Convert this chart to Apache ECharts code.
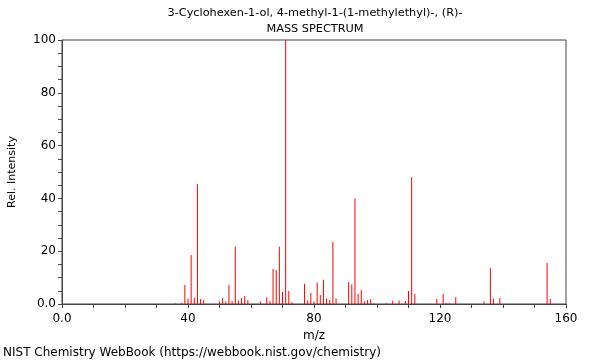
<!DOCTYPE html>
<html>
<head>
<meta charset="utf-8">
<script src="https://cdn.jsdelivr.net/npm/echarts@6/dist/echarts.min.js"></script>
<style>html,body{margin:0;padding:0;background:#fff}#c{width:600px;height:360px}</style>
</head>
<body>
<div id="c"></div>
<script>
const titleLines = ["3-Cyclohexen-1-ol, 4-methyl-1-(1-methylethyl)-, (R)-", "MASS SPECTRUM"];
const footer = "NIST Chemistry WebBook (https://webbook.nist.gov/chemistry)";
const xLabel = "m/z";
const yLabel = "Rel. Intensity";
const mz = [36,38,39,40,41,42,43,44,45,50,51,52,53,54,55,56,57,58,59,63,65,66,67,68,69,70,71,72,73,77,78,79,80,81,82,83,84,85,86,87,91,92,93,94,95,96,97,98,99,103,105,107,109,110,111,112,119,121,122,123,125,134,136,137,139,154,155];
const intensity = [0.3,0.5,7.2,2.0,18.6,2.4,45.5,1.9,1.5,0.9,2.3,0.9,7.2,1.0,21.7,1.3,2.3,3.0,1.4,0.9,2.6,1.0,13.3,12.9,21.7,4.5,100,4.9,0.7,7.7,1.3,4.2,0.9,8.1,3.4,9.2,2.1,1.5,23.5,2.1,8.3,7.4,40,3.8,5.3,1.0,1.5,1.8,0.3,0.3,1.2,1.3,1.1,4.9,48,3.8,1.9,3.8,0.4,0.3,2.6,0.9,13.5,2.0,2.3,15.5,1.9];

const chart = echarts.init(document.getElementById('c'), null, {renderer: 'canvas'});
const font = 'DejaVu Sans';
const axisCol = '#444';
chart.setOption({
  animation: false,
  textStyle: {fontFamily: font},
  title: [
    {text: titleLines[0], left: 315, top: 8, padding: 0, textAlign: 'center', textStyle: {fontSize: 11.3, fontWeight: 'normal', color: '#000', fontFamily: font}},
    {text: titleLines[1], left: 315, top: 24, padding: 0, textAlign: 'center', textStyle: {fontSize: 11.3, fontWeight: 'normal', color: '#000', fontFamily: font}},
    {text: footer, left: 3, top: 347, padding: 0, textStyle: {fontSize: 12, fontWeight: 'normal', color: '#000', fontFamily: font}}
  ],
  grid: {left: 62, right: 34, top: 40, bottom: 56, containLabel: false, outerBoundsMode: 'none', show: true, borderColor: axisCol, borderWidth: 1, backgroundColor: 'transparent'},
  xAxis: {
    type: 'value', min: 0, max: 160, interval: 40,
    name: xLabel, nameLocation: 'middle', nameGap: 23,
    nameTextStyle: {fontSize: 12, color: '#000', fontFamily: font},
    axisLine: {show: true, lineStyle: {color: axisCol}},
    axisTick: {show: true, length: 4, lineStyle: {color: axisCol}},
    minorTick: {show: true, splitNumber: 4, length: 4, lineStyle: {color: axisCol}},
    axisLabel: {fontSize: 12, color: '#000', margin: 9, fontFamily: font, formatter: v => v === 0 ? '0.0' : String(v)},
    splitLine: {show: false}
  },
  yAxis: {
    type: 'value', min: 0, max: 100, interval: 20,
    name: yLabel, nameLocation: 'middle', nameGap: 44, nameRotate: 90,
    nameTextStyle: {fontSize: 11, color: '#000', fontFamily: font},
    axisLine: {show: true, lineStyle: {color: axisCol}},
    axisTick: {show: true, length: 4, lineStyle: {color: axisCol}},
    minorTick: {show: true, splitNumber: 4, length: 4, lineStyle: {color: axisCol}},
    axisLabel: {fontSize: 12, color: '#000', margin: 6, fontFamily: font, formatter: v => v === 0 ? '0.0' : String(v)},
    splitLine: {show: false}
  },
  series: [{
    type: 'bar',
    barWidth: 1,
    itemStyle: {color: '#ff0000'},
    data: mz.map((m, i) => [m, intensity[i]])
  }]
});
</script>
</body>
</html>
